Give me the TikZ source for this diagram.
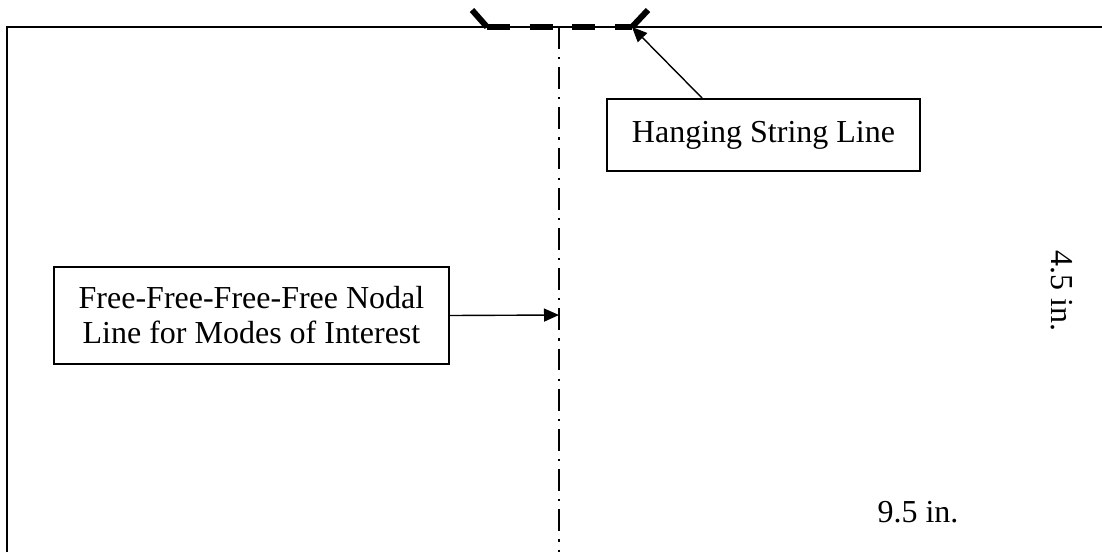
\documentclass[tikz,border=0pt]{standalone}
\usepackage{fontspec}
\setmainfont{Liberation Serif}
\usetikzlibrary{arrows.meta}
\begin{document}
\begin{tikzpicture}[x=1pt,y=-1pt,
  lbl/.style={font=\fontsize{32}{35}\selectfont, inner sep=0pt},
  tbox/.style={draw, line width=1.7pt, align=center, inner sep=0pt},
  conn/.style={line width=1.4pt, -{Triangle[length=15pt,width=13pt]}},
  strline/.style={line width=6pt, line cap=butt},
  nodal/.style={line width=2.8pt, dash pattern=on 21.7pt off 8.3pt on 2.2pt off 8pt}]
\useasboundingbox (0,0) rectangle (1102,552);
% outline of plate
\draw[line width=1.5pt] (7,552) -- (7,27) -- (1102,27);
% hanging string
\coordinate (sA) at (472,10);
\coordinate (sB) at (487,27);
\coordinate (sC) at (632,27);
\coordinate (sD) at (648,10);
\draw[strline] (sA) -- (sB);
\draw[strline, dash pattern=on 23pt off 19.5pt] (sB) -- (sC);
\draw[strline] (sC) -- (sD);
% nodal line
\coordinate (nTop) at (559,27);
\coordinate (nBot) at (559,552);
\coordinate (nMid) at (559,315);
\draw[nodal] (nTop) -- (nBot);
% boxes
\node[tbox, lbl, minimum width=395pt, minimum height=97pt] (ffbox) at (251.5,315.5)
  {Free-Free-Free-Free Nodal\\Line for Modes of Interest};
\node[tbox, lbl, minimum width=313pt, minimum height=72pt] (hsbox) at (763.5,135)
  {Hanging String Line};
\coordinate (hsStart) at ([xshift=96pt]hsbox.north west);
\draw[conn] (ffbox.east) -- (nMid);
\draw[conn] (hsStart) -- (sC);
% dimensions
\node[lbl, rotate=-90] (dimH) at (1062,291) {4.5 in.};
\node[lbl] (dimW) at (918,512) {9.5 in.};
\end{tikzpicture}
\end{document}
